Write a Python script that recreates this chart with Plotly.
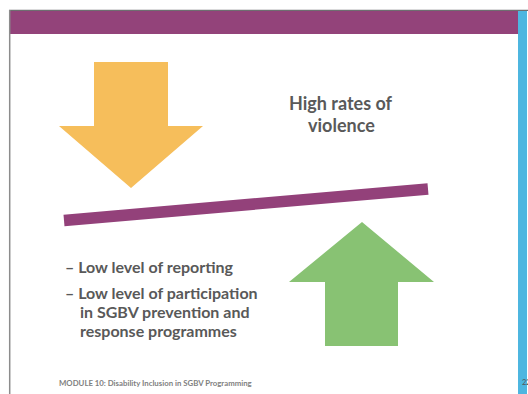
import plotly.graph_objects as go

# ---- content (text) ----
headline_lines = ["High rates of", "violence"]
bullet_lines = ["– Low level of reporting", "– Low level of participation",
                "in SGBV prevention and", "response programmes"]
footer_text = "MODULE 10: Disability Inclusion in SGBV Programming"
page_number = "22"

# ---- shape geometry (slide pixel coordinates) ----
down_arrow_x = [94, 168, 168, 203, 131, 59, 94, 94]
down_arrow_y = [62, 62, 126, 126, 188, 126, 126, 62]
up_arrow_x = [325, 398, 398, 434, 362, 289, 325, 325]
up_arrow_y = [346, 346, 282, 282, 222, 282, 282, 346]
balance_x = [64, 428]
balance_y = [220.5, 189]

W, H = 528, 394
fig = go.Figure()

fig.add_trace(go.Scatter(x=down_arrow_x, y=down_arrow_y, mode="lines", fill="toself",
                         fillcolor="#F6BE5B", line=dict(width=0, color="#F6BE5B"),
                         hoverinfo="skip", showlegend=False))
fig.add_trace(go.Scatter(x=up_arrow_x, y=up_arrow_y, mode="lines", fill="toself",
                         fillcolor="#88C273", line=dict(width=0, color="#88C273"),
                         hoverinfo="skip", showlegend=False))
fig.add_trace(go.Scatter(x=balance_x, y=balance_y, mode="lines",
                         line=dict(width=11.5, color="#93417A"),
                         hoverinfo="skip", showlegend=False))

shapes = [
    # purple header bar
    dict(type="rect", x0=9, x1=518, y0=10, y1=34, fillcolor="#93437A", line=dict(width=0), layer="below"),
    # blue right bar
    dict(type="rect", x0=518, x1=527, y0=11, y1=394, fillcolor="#4DB6E0", line=dict(width=0), layer="below"),
    # top grey border
    dict(type="line", x0=9, x1=528, y0=10.3, y1=10.3, line=dict(width=1.3, color="#6E6E70")),
    # left grey border
    dict(type="line", x0=9.7, x1=9.7, y0=10, y1=394, line=dict(width=1.5, color="#8C8C8C")),
]

annotations = []
for i, t in enumerate(headline_lines):
    annotations.append(dict(x=341, y=[103, 125][i], text=f"<b>{t}</b>", showarrow=False,
                            xanchor="center", yanchor="middle",
                            font=dict(family="Lato", size=18, color="#595959")))
bx = [63, 63, 78, 78]
by = [266, 292, 311, 330]
for i, t in enumerate(bullet_lines):
    annotations.append(dict(x=bx[i], y=by[i], text=f"<b>{t}</b>", showarrow=False,
                            xanchor="left", yanchor="middle",
                            font=dict(family="Lato", size=16, color="#595959")))
annotations.append(dict(x=57, y=383, text=f"<b>{footer_text}</b>", showarrow=False,
                        xanchor="left", yanchor="middle",
                        font=dict(family="Lato", size=7.8, color="#7F7F7F")))
annotations.append(dict(x=520, y=382, text=page_number, showarrow=False,
                        xanchor="left", yanchor="middle",
                        font=dict(family="Lato", size=7.5, color="#555555")))

fig.update_layout(
    width=W, height=H, margin=dict(l=0, r=0, t=0, b=0),
    paper_bgcolor="white", plot_bgcolor="white",
    xaxis=dict(range=[0, W], visible=False, fixedrange=True),
    yaxis=dict(range=[H, 0], visible=False, fixedrange=True),
    shapes=shapes, annotations=annotations, showlegend=False,
)
fig.write_html("out.html", config={"displayModeBar": False},
               post_script="document.body.style.margin='0';document.body.style.overflow='hidden';")
